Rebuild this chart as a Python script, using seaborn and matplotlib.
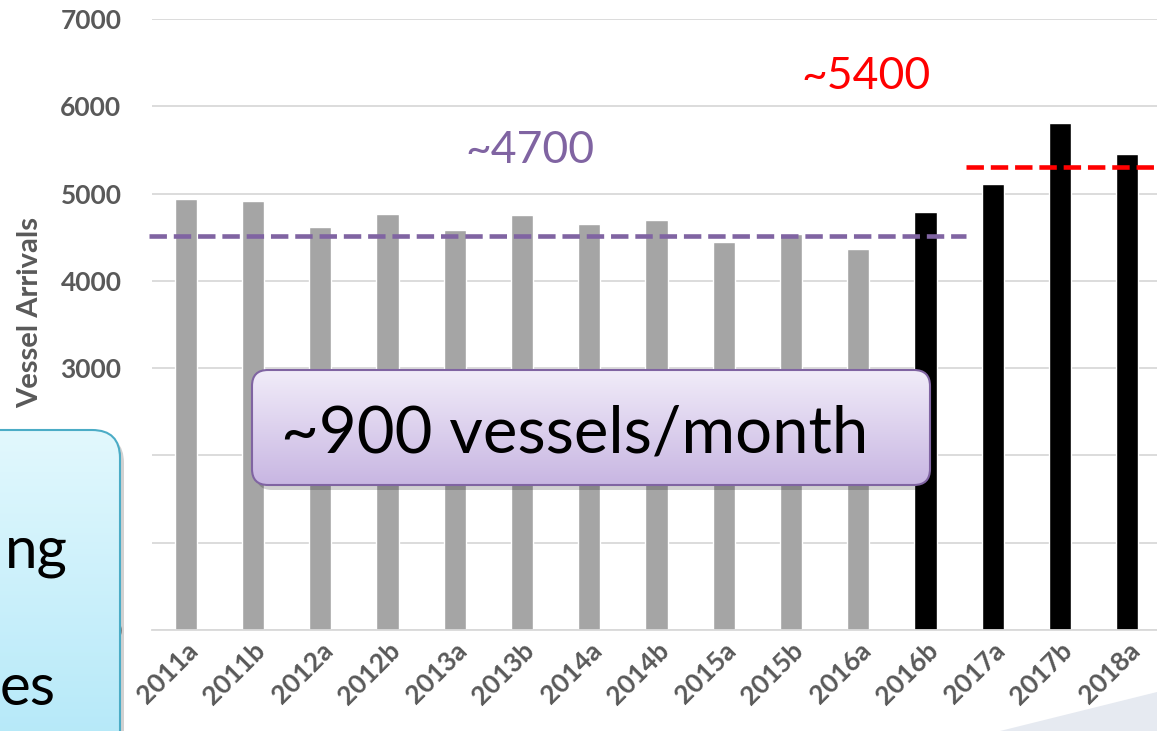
import numpy as np
import pandas as pd
import matplotlib
matplotlib.use("Agg")
import matplotlib.pyplot as plt
import seaborn as sns
from matplotlib.patches import FancyBboxPatch, Polygon

# Data
periods = ["2011a", "2011b", "2012a", "2012b", "2013a", "2013b", "2014a", "2014b",
           "2015a", "2015b", "2016a", "2016b", "2017a", "2017b", "2018a"]
arrivals = [4943, 4910, 4614, 4770, 4584, 4758, 4656, 4700,
            4440, 4540, 4370, 4786, 5111, 5809, 5448]
group = ["before"] * 11 + ["after"] * 4
avg_before = 4519
avg_after = 5299
label_before = "~4700"
label_after = "~5400"
callout = "~900 vessels/month"

sns.set_theme(style="white")
plt.rcParams["font.family"] = ["Lato", "DejaVu Sans"]

df = pd.DataFrame({"period": periods, "arrivals": arrivals, "group": group})

fig = plt.figure(figsize=(11.57, 7.31), dpi=100)
ax = fig.add_axes([152 / 1157, 101 / 731, 1009 / 1157, 611 / 731])

sns.barplot(data=df, x="period", y="arrivals", hue="group",
            palette={"before": "#a5a5a5", "after": "#000000"},
            dodge=False, width=0.33, legend=False, ax=ax, zorder=2)

ax.set_xlim(-0.5, 14.5)
ax.set_ylim(0, 7000)
ax.set_yticks(range(0, 7001, 1000))
ax.yaxis.grid(True, color="#d9d9d9", linewidth=1.3, zorder=0)
ax.set_axisbelow(True)
for s in ["top", "right", "left"]:
    ax.spines[s].set_visible(False)
ax.spines["bottom"].set_color("#d9d9d9")
ax.spines["bottom"].set_linewidth(1.3)
ax.tick_params(axis="both", length=0, colors="#595959")
ax.tick_params(axis="y", labelsize=19, pad=22)
ax.tick_params(axis="x", labelsize=19, pad=6)
for lab in ax.get_yticklabels():
    lab.set_fontweight("bold")
plt.setp(ax.get_xticklabels(), rotation=45, ha="right", rotation_mode="anchor",
         fontweight="bold")
ax.set_xlabel("")
ax.set_ylabel("Vessel Arrivals", fontsize=21, fontweight="bold", color="#595959")
ax.yaxis.set_label_coords(-0.108, 0.52)

# average lines
ax.plot([-0.55, 11.6], [avg_before, avg_before], color="#8064a2", lw=3.3,
        ls=(0, (3.8, 1.5)), zorder=3, clip_on=False)
ax.plot([11.6, 14.5], [avg_after, avg_after], color="#ff0000", lw=3.3,
        ls=(0, (3.8, 1.5)), zorder=3)
ax.text(5.12, 5350, label_before, color="#8064a2", fontsize=32, ha="center",
        va="baseline")
ax.text(10.12, 6200, label_after, color="#ff0000", fontsize=32, ha="center",
        va="baseline")

# overlay in pixel coordinates for the callout shapes
ov = fig.add_axes([0, 0, 1, 1])
ov.set_xlim(0, 1157)
ov.set_ylim(731, 0)
ov.axis("off")


def gradient_box(x0, y0, x1, y1, top, bottom, edge, rounding):
    shadow = FancyBboxPatch((x0 + 4, y0 + 5), x1 - x0, y1 - y0,
                            boxstyle=f"round,pad=0,rounding_size={rounding}",
                            facecolor="#000000", alpha=0.18, edgecolor="none")
    ov.add_patch(shadow)
    box = FancyBboxPatch((x0, y0), x1 - x0, y1 - y0,
                         boxstyle=f"round,pad=0,rounding_size={rounding}",
                         facecolor="none", edgecolor=edge, linewidth=1.5, zorder=3)
    ov.add_patch(box)
    c0 = np.array(matplotlib.colors.to_rgb(top))
    c1 = np.array(matplotlib.colors.to_rgb(bottom))
    t = np.linspace(0, 1, 256)[:, None, None]
    img = c0 * (1 - t) + c1 * t
    im = ov.imshow(img, extent=(x0, x1, y1, y0), origin="upper", aspect="auto", zorder=2)
    im.set_clip_path(box)


gradient_box(252, 370, 930, 485, "#f1ecf9", "#c8b6e2", "#8064a2", 16)
ov.text(575, 452, callout, fontsize=47, ha="center", va="baseline", color="#000000",
        zorder=4)

gradient_box(-40, 430, 120, 800, "#e2f8fd", "#ade6f8", "#4bacc6", 28)
ov.text(68, 568, "ng", fontsize=42, ha="right", va="baseline", color="#000000", zorder=4)
ov.text(56, 705, "es", fontsize=42, ha="right", va="baseline", color="#000000", zorder=4)

# faint corner decoration
ov.add_patch(Polygon([[1000, 731], [1157, 692], [1157, 731]], closed=True,
                     facecolor="#e6eaf1", edgecolor="none", zorder=1))

ov.set_xlim(0, 1157)
ov.set_ylim(731, 0)

fig.savefig("out.png", dpi=100)
